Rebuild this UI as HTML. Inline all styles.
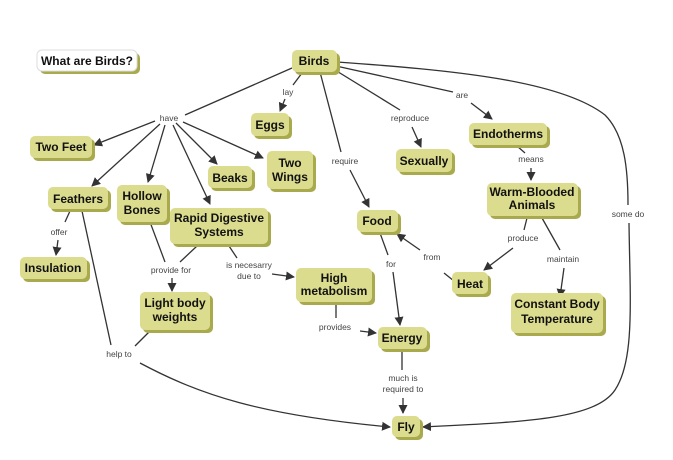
<!DOCTYPE html>
<html><head><meta charset="utf-8"><style>
body{margin:0;background:#fff;}
svg{display:block;font-family:"Liberation Sans",Arial,sans-serif;}
.n{fill:#dcdc8e;}
.s{fill:#a9a94e;}
.t{font-weight:bold;font-size:12px;fill:#111;text-anchor:middle;}
.l{font-size:8.5px;fill:#444;text-anchor:middle;}
.c{stroke:#333;stroke-width:1.3;fill:none;}
</style></head><body>
<svg width="673" height="460" viewBox="0 0 673 460">
<defs><marker id="a" markerWidth="10" markerHeight="10" refX="8" refY="5" orient="auto" markerUnits="userSpaceOnUse"><path d="M0,0.5 L9,5 L0,9.5 z" fill="#333"/></marker></defs>
<g class="c">
<line x1="292" y1="68" x2="185" y2="115"/>
<line x1="155" y1="121" x2="94" y2="145" marker-end="url(#a)"/>
<line x1="160" y1="124" x2="92" y2="186" marker-end="url(#a)"/>
<line x1="165" y1="125" x2="148" y2="182" marker-end="url(#a)"/>
<line x1="173" y1="125" x2="210" y2="204" marker-end="url(#a)"/>
<line x1="176" y1="123" x2="217" y2="164" marker-end="url(#a)"/>
<line x1="183" y1="122" x2="263" y2="158" marker-end="url(#a)"/>
<line x1="302" y1="73" x2="293" y2="85"/>
<line x1="285" y1="99" x2="280" y2="111" marker-end="url(#a)"/>
<line x1="70" y1="211" x2="65" y2="222"/>
<line x1="58" y1="240" x2="56" y2="255" marker-end="url(#a)"/>
<line x1="82" y1="211" x2="111" y2="345"/>
<line x1="150" y1="331" x2="135" y2="346"/>
<path d="M140,363 C200,395 260,415 390,427" marker-end="url(#a)"/>
<line x1="150" y1="222" x2="165" y2="262"/>
<line x1="197" y1="246" x2="180" y2="262"/>
<line x1="172" y1="278" x2="172" y2="291" marker-end="url(#a)"/>
<line x1="229" y1="246" x2="237" y2="258"/>
<line x1="272" y1="274" x2="294" y2="277" marker-end="url(#a)"/>
<line x1="336" y1="303" x2="336" y2="318"/>
<line x1="360" y1="331" x2="376" y2="333" marker-end="url(#a)"/>
<line x1="320" y1="72" x2="341" y2="152"/>
<line x1="350" y1="170" x2="369" y2="207" marker-end="url(#a)"/>
<line x1="380" y1="233" x2="388" y2="255"/>
<line x1="393" y1="272" x2="400" y2="325" marker-end="url(#a)"/>
<line x1="402" y1="351" x2="402" y2="370"/>
<line x1="403" y1="398" x2="403" y2="413" marker-end="url(#a)"/>
<line x1="335" y1="70" x2="400" y2="110"/>
<line x1="412" y1="127" x2="421" y2="147" marker-end="url(#a)"/>
<line x1="336" y1="66" x2="453" y2="92"/>
<line x1="471" y1="103" x2="492" y2="119" marker-end="url(#a)"/>
<line x1="517" y1="146" x2="525" y2="153"/>
<line x1="531" y1="168" x2="531" y2="180" marker-end="url(#a)"/>
<line x1="527" y1="218" x2="524" y2="230"/>
<line x1="513" y1="248" x2="484" y2="270" marker-end="url(#a)"/>
<line x1="542" y1="218" x2="560" y2="250"/>
<line x1="564" y1="268" x2="560" y2="297" marker-end="url(#a)"/>
<line x1="454" y1="281" x2="444" y2="273"/>
<line x1="420" y1="250" x2="397" y2="234" marker-end="url(#a)"/>
<path d="M337,62 C450,70 560,80 605,115 C625,135 628,170 628,205"/>
<path d="M629,223 C630,300 635,360 615,390 C595,420 520,422 423,427" marker-end="url(#a)"/>
</g>
<g>
<rect x="40" y="53" width="100" height="21" rx="5" class="s"/><rect x="37" y="50" width="100" height="21" rx="5" fill="#fff" stroke="#ddd"/>
<text x="87" y="65" class="t">What are Birds?</text>
</g>
<g id="nodes">
<rect x="295" y="53" width="45" height="22" rx="5" class="s"/><rect x="292" y="50" width="45" height="22" rx="5" class="n"/><text x="314" y="65" class="t">Birds</text>
<rect x="254" y="116" width="38" height="23" rx="5" class="s"/><rect x="251" y="113" width="38" height="23" rx="5" class="n"/><text x="270" y="129" class="t">Eggs</text>
<rect x="33" y="139" width="62" height="22" rx="5" class="s"/><rect x="30" y="136" width="62" height="22" rx="5" class="n"/><text x="61" y="151" class="t">Two Feet</text>
<rect x="270" y="154" width="46" height="38" rx="5" class="s"/><rect x="267" y="151" width="46" height="38" rx="5" class="n"/><text x="290" y="167" class="t">Two</text><text x="290" y="181" class="t">Wings</text>
<rect x="211" y="169" width="44" height="22" rx="5" class="s"/><rect x="208" y="166" width="44" height="22" rx="5" class="n"/><text x="230" y="182" class="t">Beaks</text>
<rect x="51" y="190" width="60" height="22" rx="5" class="s"/><rect x="48" y="187" width="60" height="22" rx="5" class="n"/><text x="78" y="203" class="t">Feathers</text>
<rect x="120" y="188" width="50" height="37" rx="5" class="s"/><rect x="117" y="185" width="50" height="37" rx="5" class="n"/><text x="142" y="200" class="t">Hollow</text><text x="142" y="214" class="t">Bones</text>
<rect x="173" y="211" width="98" height="36" rx="5" class="s"/><rect x="170" y="208" width="98" height="36" rx="5" class="n"/><text x="219" y="222" class="t">Rapid Digestive</text><text x="219" y="236" class="t">Systems</text>
<rect x="23" y="260" width="67" height="22" rx="5" class="s"/><rect x="20" y="257" width="67" height="22" rx="5" class="n"/><text x="53" y="272" class="t">Insulation</text>
<rect x="399" y="152" width="56" height="23" rx="5" class="s"/><rect x="396" y="149" width="56" height="23" rx="5" class="n"/><text x="424" y="165" class="t">Sexually</text>
<rect x="472" y="126" width="78" height="22" rx="5" class="s"/><rect x="469" y="123" width="78" height="22" rx="5" class="n"/><text x="508" y="138" class="t">Endotherms</text>
<rect x="490" y="186" width="91" height="33" rx="5" class="s"/><rect x="487" y="183" width="91" height="33" rx="5" class="n"/><text x="532" y="196" class="t">Warm-Blooded</text><text x="532" y="209" class="t">Animals</text>
<rect x="360" y="213" width="41" height="22" rx="5" class="s"/><rect x="357" y="210" width="41" height="22" rx="5" class="n"/><text x="377" y="225" class="t">Food</text>
<rect x="455" y="275" width="36" height="22" rx="5" class="s"/><rect x="452" y="272" width="36" height="22" rx="5" class="n"/><text x="470" y="288" class="t">Heat</text>
<rect x="299" y="271" width="76" height="34" rx="5" class="s"/><rect x="296" y="268" width="76" height="34" rx="5" class="n"/><text x="334" y="282" class="t">High</text><text x="334" y="295" class="t">metabolism</text>
<rect x="143" y="295" width="70" height="38" rx="5" class="s"/><rect x="140" y="292" width="70" height="38" rx="5" class="n"/><text x="175" y="307" class="t">Light body</text><text x="175" y="321" class="t">weights</text>
<rect x="514" y="296" width="92" height="40" rx="5" class="s"/><rect x="511" y="293" width="92" height="40" rx="5" class="n"/><text x="557" y="308" class="t">Constant Body</text><text x="557" y="323" class="t">Temperature</text>
<rect x="381" y="330" width="49" height="22" rx="5" class="s"/><rect x="378" y="327" width="49" height="22" rx="5" class="n"/><text x="402" y="342" class="t">Energy</text>
<rect x="395" y="419" width="28" height="21" rx="5" class="s"/><rect x="392" y="416" width="28" height="21" rx="5" class="n"/><text x="406" y="431" class="t">Fly</text>
</g>
<g class="l">
<text x="169" y="121">have</text>
<text x="288" y="95">lay</text>
<text x="59" y="235">offer</text>
<text x="119" y="357">help to</text>
<text x="171" y="273">provide for</text>
<text x="249" y="268">is necesarry</text><text x="249" y="279">due to</text>
<text x="335" y="330">provides</text>
<text x="345" y="164">require</text>
<text x="391" y="267">for</text>
<text x="403" y="381">much is</text><text x="403" y="392">required to</text>
<text x="410" y="121">reproduce</text>
<text x="462" y="98">are</text>
<text x="531" y="162">means</text>
<text x="523" y="241">produce</text>
<text x="563" y="262">maintain</text>
<text x="432" y="260">from</text>
<text x="628" y="217">some do</text>
</g>
</svg>
</body></html>
